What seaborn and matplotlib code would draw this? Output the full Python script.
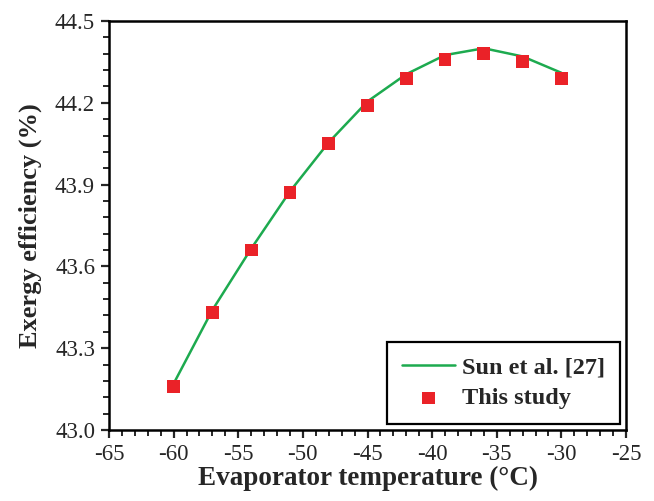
import numpy as np
import pandas as pd
import seaborn as sns
import matplotlib.pyplot as plt
from matplotlib.ticker import MultipleLocator, FixedLocator

# Data
temp = [-60, -57, -54, -51, -48, -45, -42, -39, -36, -33, -30]
sun_eff = [43.17, 43.44, 43.665, 43.875, 44.055, 44.205, 44.305, 44.375, 44.40, 44.37, 44.31]
study_eff = [43.16, 43.43, 43.66, 43.87, 44.05, 44.19, 44.29, 44.36, 44.38, 44.35, 44.29]
y_ticks = [43.0, 43.3, 43.6, 43.9, 44.2, 44.5]

df = pd.DataFrame({"T": temp, "sun": sun_eff, "study": study_eff})

sns.set_style("ticks")
plt.rcParams['font.family'] = ['Liberation Serif', 'DejaVu Serif']
plt.rcParams['axes.unicode_minus'] = False

fig = plt.figure(figsize=(6.54, 5.01), dpi=100)
ax = fig.add_axes([109/654, 1 - 430/501, (626-109)/654, (430-21)/501])

sns.lineplot(data=df, x="T", y="sun", ax=ax, color="#1daa4f", lw=1.8,
             label="Sun et al. [27]")
sns.scatterplot(data=df, x="T", y="study", ax=ax, color="#ea2228", marker="s",
                s=85, edgecolor="none", label="This study", zorder=3)

ax.set_xlim(-65, -25)
ax.set_ylim(43.0, 44.5)
ax.xaxis.set_major_locator(MultipleLocator(5))
ax.xaxis.set_minor_locator(MultipleLocator(1))
ax.yaxis.set_major_locator(FixedLocator(y_ticks))
ax.yaxis.set_minor_locator(FixedLocator(np.arange(43.0, 44.51, 0.06)))
ax.yaxis.set_major_formatter(plt.FuncFormatter(lambda v, p: f"{v:.1f}"))
ax.xaxis.set_major_formatter(plt.FuncFormatter(lambda v, p: f"{v:.0f}"))

ax.tick_params(which="major", direction="out", length=6, width=1.6, labelsize=16.5,
               top=False, right=False, pad=4)
ax.tick_params(which="minor", direction="out", length=4, width=1.4,
               top=False, right=False)
for s in ax.spines.values():
    s.set_linewidth(1.8)
    s.set_color("black")

ax.set_xlabel("Evaporator temperature (°C)", fontsize=19.5, fontweight="bold", labelpad=1)
ax.set_ylabel("Exergy efficiency (%)", fontsize=19, fontweight="bold", labelpad=9)

leg = ax.legend(loc="lower right", frameon=True, fancybox=False, framealpha=1,
                edgecolor="black", prop={"size": 17.5, "weight": "bold"},
                borderaxespad=0.25, handlelength=2.2, handletextpad=0.3,
                borderpad=0.6, labelspacing=0.35)
leg.get_frame().set_linewidth(1.6)

fig.savefig("out.png", dpi=100)
